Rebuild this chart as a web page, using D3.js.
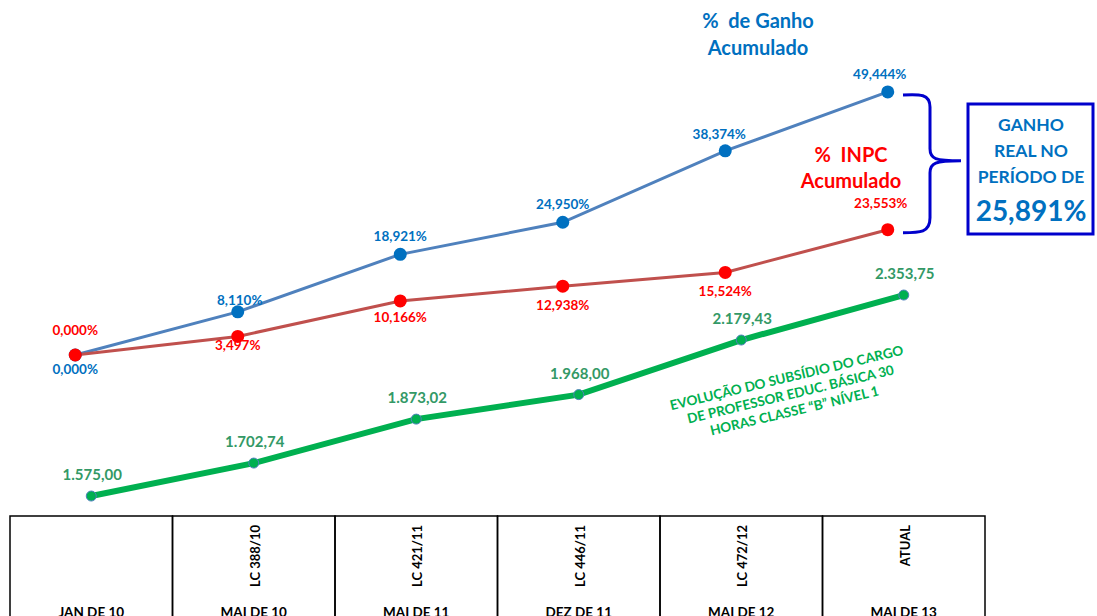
<!DOCTYPE html>
<meta charset="UTF-8">
<style>
  body { margin: 0; background: #fff; }
  text { font-family: Lato, "Open Sans", sans-serif; font-weight: bold; white-space: pre; }
  .cell { fill: none; stroke: #000; stroke-width: 1.5px; }
</style>
<body>
<script src="https://d3js.org/d3.v7.min.js"></script>
<script>

// columns of the table under the chart
var periods = ["JAN DE 10", "MAI DE 10", "MAI DE 11", "DEZ DE 11", "MAI DE 12", "MAI DE 13"];
var laws = ["", "LC 388/10", "LC 421/11", "LC 446/11", "LC 472/12", "ATUAL"];

// % de ganho acumulado
var ganho = [0, 8.110, 18.921, 24.950, 38.374, 49.444];
// % INPC acumulado
var inpc = [0, 3.497, 10.166, 12.938, 15.524, 23.553];
// subsidio (R$)
var subsidio = [1575.00, 1702.74, 1873.02, 1968.00, 2179.43, 2353.75];

var ganhoReal = "25,891%";

var width = 1097, height = 616;

var svg = d3.select("body").append("svg")
    .attr("width", width)
    .attr("height", height);

var x = d3.scaleBand().domain(periods).range([10, 985]);
var yPct = d3.scaleLinear().domain([0, 50]).range([355, 89]);
var yVal = d3.scaleLinear().domain([1500, 2400]).range([515.4, 283.1]);

var pctFmt = function(v) { return v.toFixed(3).replace(".", ",") + "%"; };
var valFmt = function(v) {
  var s = v.toFixed(2).split(".");
  return s[0].replace(/\B(?=(\d{3})+(?!\d))/g, ".") + "," + s[1];
};

// percent lines sit a bit left of the column centres
var px = function(i) { return x(periods[i]) + x.bandwidth() / 2 - 16; };
var gx = function(i) { return x(periods[i]) + x.bandwidth() / 2; };

// ****************** table ***************************
var tbl = svg.append("g");
periods.forEach(function(p, i) {
  tbl.append("rect").attr("class", "cell")
    .attr("x", x(p)).attr("y", 516)
    .attr("width", x.bandwidth()).attr("height", 140);
  tbl.append("text")
    .attr("x", gx(i)).attr("y", 616.5)
    .attr("text-anchor", "middle")
    .style("font-size", "13.5px")
    .text(p);
  if (laws[i]) {
    tbl.append("text")
      .attr("transform", "translate(" + (gx(i) + 6) + ",525) rotate(-90)")
      .attr("text-anchor", "end")
      .style("font-size", "13px")
      .text(laws[i]);
  }
});

// ****************** lines ***************************
var linePct = d3.line()
    .x(function(d, i) { return px(i); })
    .y(function(d) { return yPct(d); });
var lineVal = d3.line()
    .x(function(d, i) { return gx(i); })
    .y(function(d) { return yVal(d); });

svg.append("path").datum(subsidio).attr("d", lineVal)
  .attr("fill", "none").attr("stroke", "#00B050").attr("stroke-width", 6);
svg.append("path").datum(ganho).attr("d", linePct)
  .attr("fill", "none").attr("stroke", "#4F81BD").attr("stroke-width", 3);
svg.append("path").datum(inpc).attr("d", linePct)
  .attr("fill", "none").attr("stroke", "#C0504D").attr("stroke-width", 3);

svg.selectAll("circle.ganho").data(ganho).enter().append("circle")
  .attr("class", "ganho")
  .attr("cx", function(d, i) { return px(i); })
  .attr("cy", function(d) { return yPct(d); })
  .attr("r", 6.5).attr("fill", "#0070C0");
svg.selectAll("circle.inpc").data(inpc).enter().append("circle")
  .attr("class", "inpc")
  .attr("cx", function(d, i) { return px(i); })
  .attr("cy", function(d) { return yPct(d); })
  .attr("r", 6.5).attr("fill", "#FF0000");
svg.selectAll("circle.sub").data(subsidio).enter().append("circle")
  .attr("class", "sub")
  .attr("cx", function(d, i) { return gx(i); })
  .attr("cy", function(d) { return yVal(d); })
  .attr("r", 5).attr("fill", "#00B050")
  .attr("stroke", "#4F81BD").attr("stroke-width", 1);

// ****************** labels ***************************
// offsets of each label from its point (above = negative)
var ganhoDy = [14, -11, -18, -18, -16, -17];
var ganhoDx = [0, 2, 0, 0, -6, -8];
var inpcDy = [-16, 18, 25, 28, 28, -18];
var inpcDx = [0, 0, 0, 0, 0, -7];

svg.selectAll("text.ganho").data(ganho).enter().append("text")
  .attr("class", "ganho")
  .attr("x", function(d, i) { return px(i) + ganhoDx[i]; })
  .attr("y", function(d, i) { return yPct(d) + ganhoDy[i] + 4.5; })
  .attr("text-anchor", "middle")
  .style("font-size", "13.5px").attr("fill", "#0070C0")
  .text(pctFmt);
svg.selectAll("text.inpc").data(inpc).enter().append("text")
  .attr("class", "inpc")
  .attr("x", function(d, i) { return px(i) + inpcDx[i]; })
  .attr("y", function(d, i) { return yPct(d) + inpcDy[i] - 4; })
  .attr("text-anchor", "middle")
  .style("font-size", "13.5px").attr("fill", "#FF0000")
  .text(pctFmt);
svg.selectAll("text.sub").data(subsidio).enter().append("text")
  .attr("class", "sub")
  .attr("x", function(d, i) { return gx(i) + 1; })
  .attr("y", function(d) { return yVal(d) - 16; })
  .attr("text-anchor", "middle")
  .style("font-size", "15px").attr("fill", "#339966")
  .text(valFmt);

// series titles
svg.append("text").attr("x", 758).attr("y", 28).attr("text-anchor", "middle")
  .style("font-size", "20px").attr("fill", "#0070C0")
  .selectAll("tspan").data(["%  de Ganho", "Acumulado"]).enter().append("tspan")
  .attr("x", 758).attr("dy", function(d, i) { return i ? 27 : 0; })
  .text(function(d) { return d; });
svg.append("text").attr("x", 851).attr("y", 162).attr("text-anchor", "middle")
  .style("font-size", "20px").attr("fill", "#FF0000")
  .selectAll("tspan").data(["%  INPC", "Acumulado"]).enter().append("tspan")
  .attr("x", 851).attr("dy", function(d, i) { return i ? 26 : 0; })
  .text(function(d) { return d; });

// rotated note
var note = svg.append("text")
  .attr("transform", "translate(790,392) rotate(-13.5)")
  .attr("text-anchor", "middle")
  .style("font-size", "13.5px").attr("fill", "#00B050");
["EVOLUÇÃO DO SUBSÍDIO DO CARGO", "DE PROFESSOR EDUC. BÁSICA 30", "HORAS CLASSE \u201CB\u201D NÍVEL 1"]
  .forEach(function(t, i) {
    note.append("tspan").attr("x", 0).attr("y", i * 17 - 10).text(t);
  });

// brace and box
var yTop = yPct(ganho[5]), yBot = yPct(inpc[5]), yMid = (yTop + yBot) / 2;
svg.append("path")
  .attr("d", "M 903 " + (yTop + 3) +
    " C 920 " + (yTop + 2) + ", 930 " + (yTop + 2) + ", 930 " + (yTop + 15) +
    " L 930 " + (yMid - 12) +
    " C 930 " + (yMid - 2) + ", 935 " + yMid + ", 961 " + yMid +
    " C 935 " + yMid + ", 930 " + (yMid + 2) + ", 930 " + (yMid + 12) +
    " L 930 " + (yBot - 12) +
    " C 930 " + (yBot + 3) + ", 920 " + (yBot + 3) + ", 903 " + (yBot + 3))
  .attr("fill", "none").attr("stroke", "#0000CC").attr("stroke-width", 3);

svg.append("rect").attr("x", 968).attr("y", 104).attr("width", 125).attr("height", 130)
  .attr("fill", "#fff").attr("stroke", "#0000CC").attr("stroke-width", 3);
var box = svg.append("text").attr("text-anchor", "middle").attr("fill", "#0070C0");
["GANHO", "REAL NO", "PERÍODO DE"].forEach(function(t, i) {
  box.append("tspan").attr("x", 1031).attr("y", 131 + i * 26)
    .style("font-size", "17.5px").text(t);
});
box.append("tspan").attr("x", 1031).attr("y", 221)
  .style("font-size", "28px").text(ganhoReal);

</script>
</body>
